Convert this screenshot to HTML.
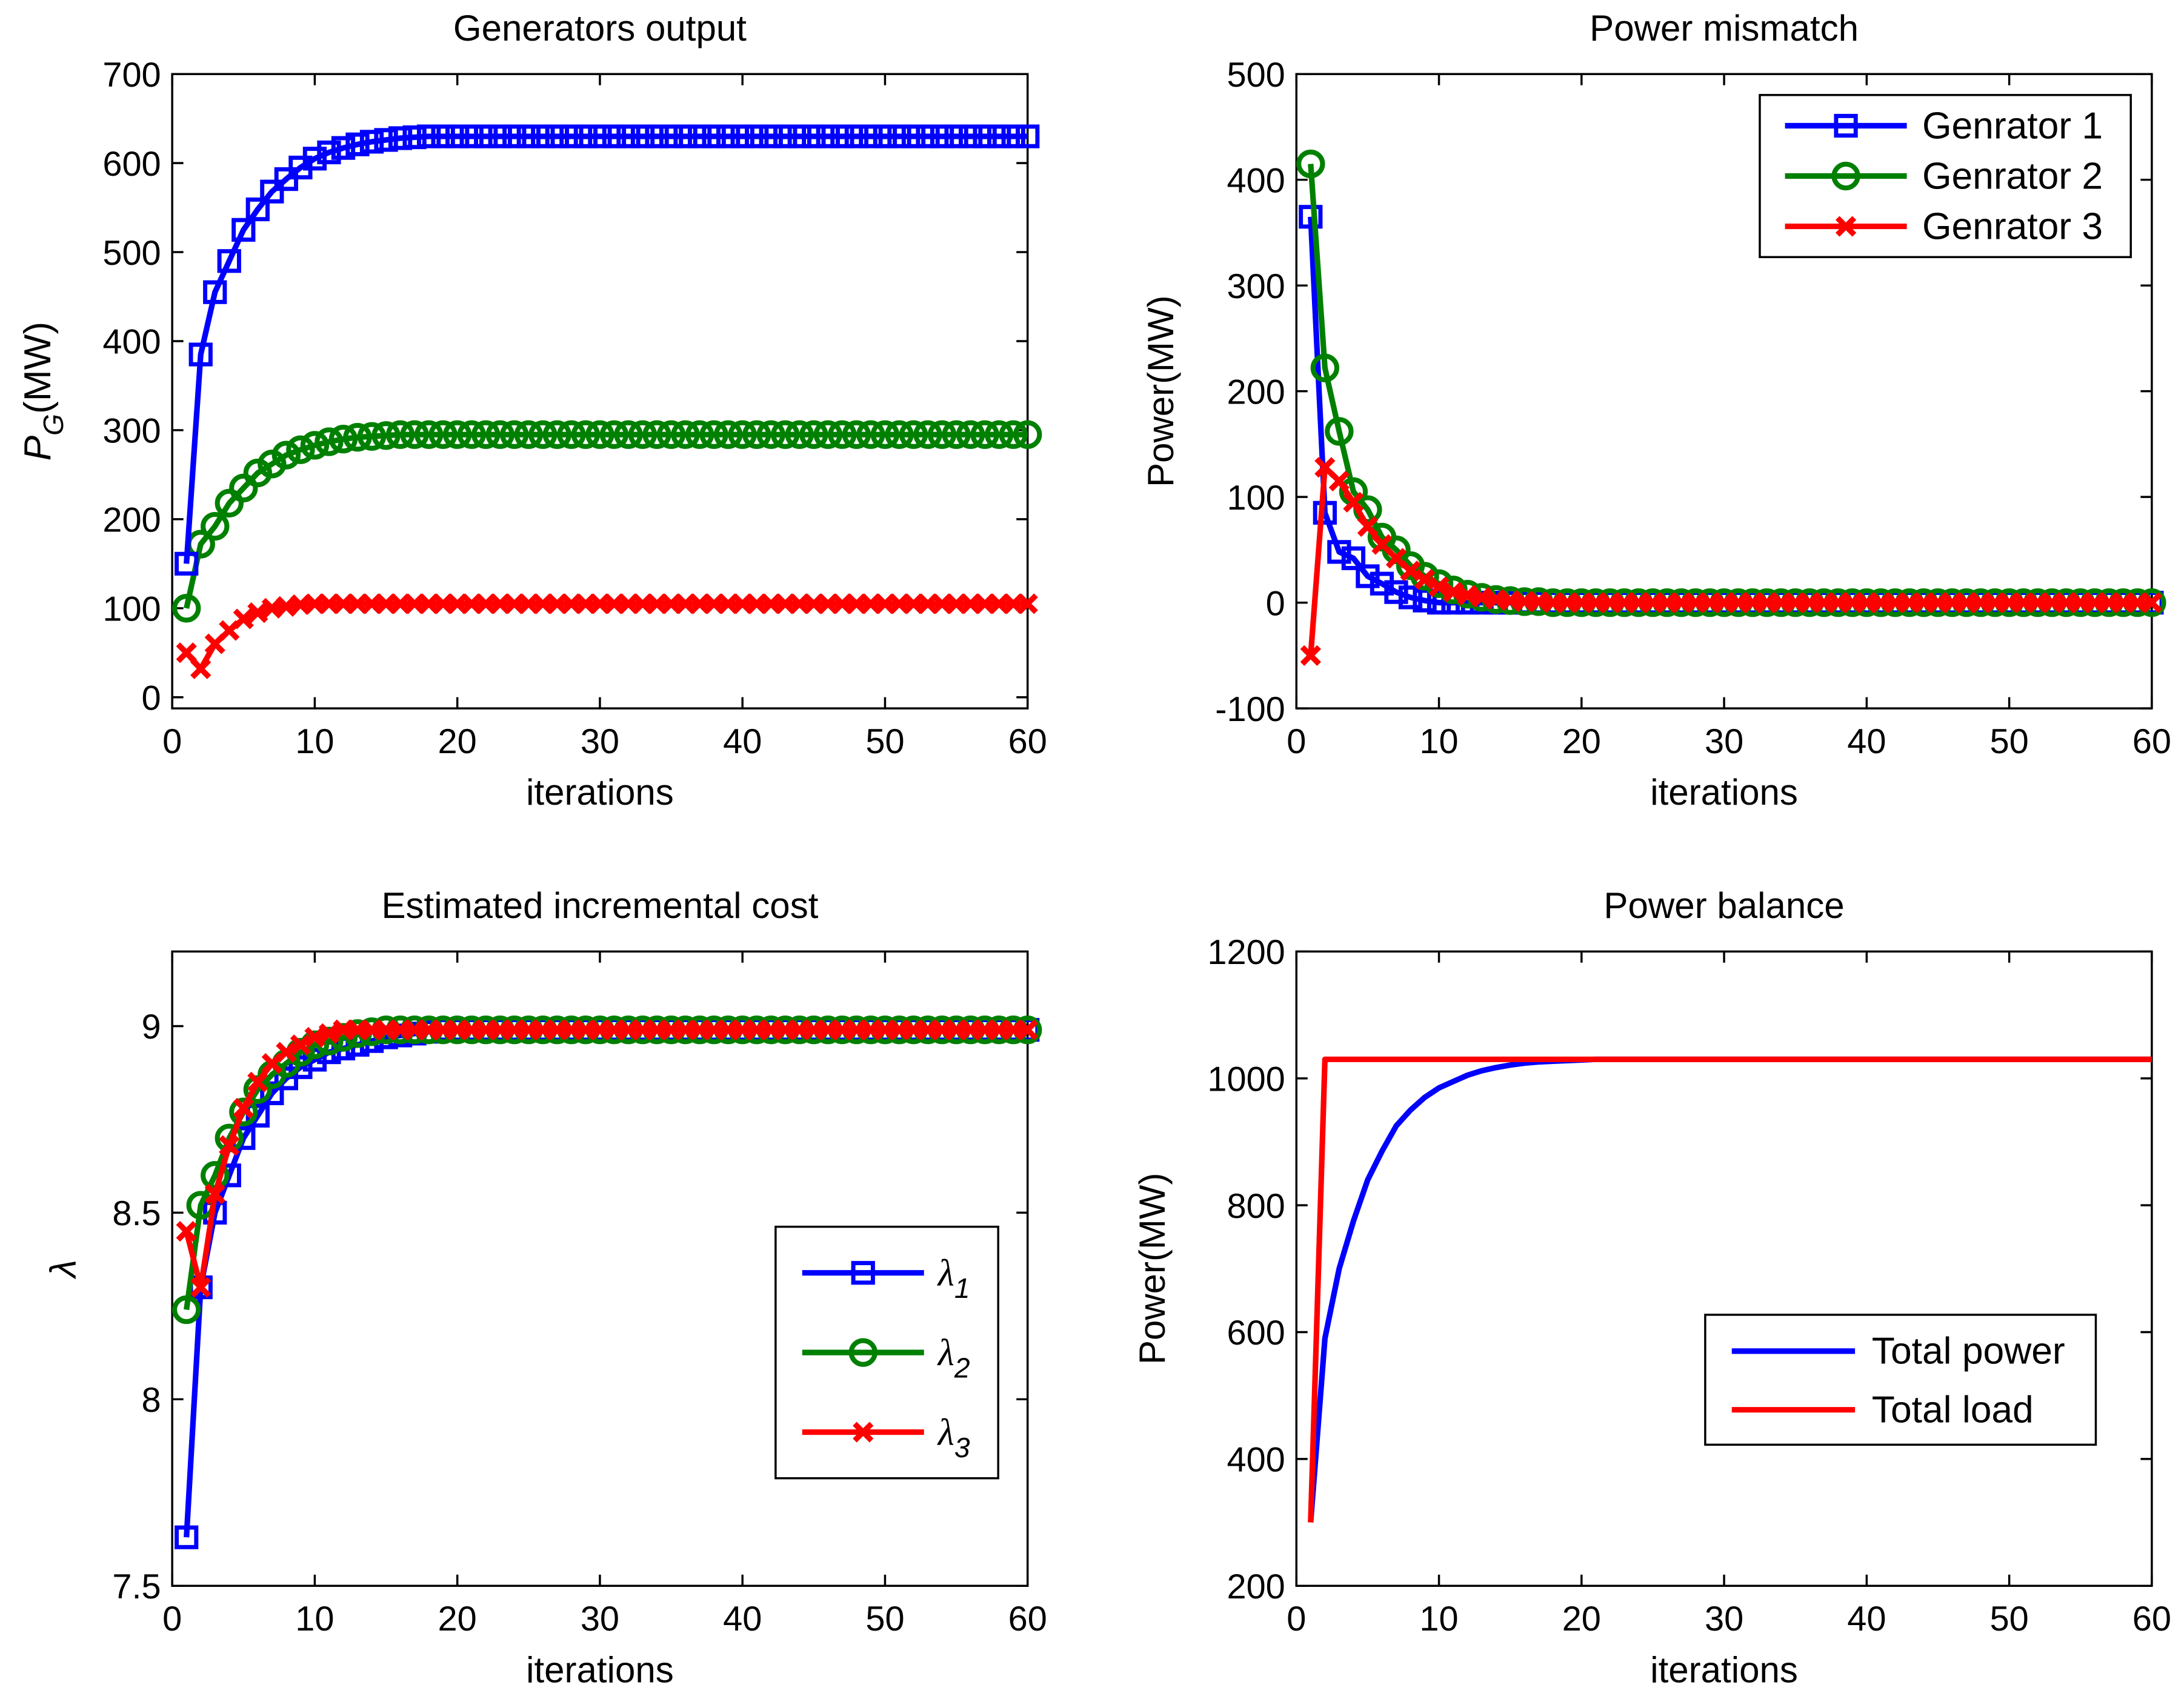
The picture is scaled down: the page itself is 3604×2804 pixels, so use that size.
<!DOCTYPE html>
<html><head><meta charset="utf-8">
<style>
html,body{margin:0;padding:0;background:#fff;}
svg{display:block;}
text{font-family:"Liberation Sans",sans-serif;fill:#000;}
</style></head>
<body>
<svg id="fig" width="3604" height="2804" viewBox="0 0 1560 1216" preserveAspectRatio="none" xmlns="http://www.w3.org/2000/svg"></svg>
<script>
// ---- data ----
const iterations = Array.from({length:60},(_,i)=>i+1);
const pg1 = [150,385,455,490,525,548,568,582,595,605,612,617,621,624,626,628,629,630,630,630,630,630,630,630,630,630,630,630,630,630,630,630,630,630,630,630,630,630,630,630,630,630,630,630,630,630,630,630,630,630,630,630,630,630,630,630,630,630,630,630];
const pg2 = [100,172,192,218,235,252,262,272,278,283,287,290,292,293,294,295,295,295,295,295,295,295,295,295,295,295,295,295,295,295,295,295,295,295,295,295,295,295,295,295,295,295,295,295,295,295,295,295,295,295,295,295,295,295,295,295,295,295,295,295];
const pg3 = [50,32,60,75,88,95,100,102,104,105,105,105,105,105,105,105,105,105,105,105,105,105,105,105,105,105,105,105,105,105,105,105,105,105,105,105,105,105,105,105,105,105,105,105,105,105,105,105,105,105,105,105,105,105,105,105,105,105,105,105];
const mm1 = [365,85,48,42,25,18,10,5,2,0,0,0,0,0,0,0,0,0,0,0,0,0,0,0,0,0,0,0,0,0,0,0,0,0,0,0,0,0,0,0,0,0,0,0,0,0,0,0,0,0,0,0,0,0,0,0,0,0,0,0];
const mm2 = [415,222,162,105,88,62,50,35,25,18,12,8,5,3,2,1,1,0,0,0,0,0,0,0,0,0,0,0,0,0,0,0,0,0,0,0,0,0,0,0,0,0,0,0,0,0,0,0,0,0,0,0,0,0,0,0,0,0,0,0];
const mm3 = [-50,128,115,95,72,55,42,30,22,15,10,7,5,3,2,1,1,0,0,0,0,0,0,0,0,0,0,0,0,0,0,0,0,0,0,0,0,0,0,0,0,0,0,0,0,0,0,0,0,0,0,0,0,0,0,0,0,0,0,0];
const lam1 = [7.63,8.30,8.50,8.60,8.70,8.76,8.82,8.86,8.89,8.91,8.93,8.94,8.95,8.96,8.97,8.975,8.98,8.985,8.99,8.99,8.99,8.99,8.99,8.99,8.99,8.99,8.99,8.99,8.99,8.99,8.99,8.99,8.99,8.99,8.99,8.99,8.99,8.99,8.99,8.99,8.99,8.99,8.99,8.99,8.99,8.99,8.99,8.99,8.99,8.99,8.99,8.99,8.99,8.99,8.99,8.99,8.99,8.99,8.99,8.99];
const lam2 = [8.24,8.52,8.60,8.70,8.77,8.83,8.87,8.90,8.93,8.95,8.96,8.97,8.98,8.985,8.99,8.99,8.99,8.99,8.99,8.99,8.99,8.99,8.99,8.99,8.99,8.99,8.99,8.99,8.99,8.99,8.99,8.99,8.99,8.99,8.99,8.99,8.99,8.99,8.99,8.99,8.99,8.99,8.99,8.99,8.99,8.99,8.99,8.99,8.99,8.99,8.99,8.99,8.99,8.99,8.99,8.99,8.99,8.99,8.99,8.99];
const lam3 = [8.45,8.30,8.55,8.68,8.78,8.85,8.90,8.93,8.95,8.97,8.98,8.99,8.99,8.99,8.99,8.99,8.99,8.99,8.99,8.99,8.99,8.99,8.99,8.99,8.99,8.99,8.99,8.99,8.99,8.99,8.99,8.99,8.99,8.99,8.99,8.99,8.99,8.99,8.99,8.99,8.99,8.99,8.99,8.99,8.99,8.99,8.99,8.99,8.99,8.99,8.99,8.99,8.99,8.99,8.99,8.99,8.99,8.99,8.99,8.99];
const totalPower = [300,590,700,775,840,885,925,950,970,985,995,1005,1012,1017,1021,1024,1026,1027,1028,1029,1030,1030,1030,1030,1030,1030,1030,1030,1030,1030,1030,1030,1030,1030,1030,1030,1030,1030,1030,1030,1030,1030,1030,1030,1030,1030,1030,1030,1030,1030,1030,1030,1030,1030,1030,1030,1030,1030,1030,1030];
const totalLoad = [300,1030,1030,1030,1030,1030,1030,1030,1030,1030,1030,1030,1030,1030,1030,1030,1030,1030,1030,1030,1030,1030,1030,1030,1030,1030,1030,1030,1030,1030,1030,1030,1030,1030,1030,1030,1030,1030,1030,1030,1030,1030,1030,1030,1030,1030,1030,1030,1030,1030,1030,1030,1030,1030,1030,1030,1030,1030,1030,1030];
const xTicks = [0,10,20,30,40,50,60];
const yTicksPG = [0,100,200,300,400,500,600,700];
const yTicksMM = [-100,0,100,200,300,400,500];
const yTicksLam = [7.5,8,8.5,9];
const yTickLabelsLam = ['7.5','8','8.5','9'];
const yTicksPB = [200,400,600,800,1000,1200];

const NS='http://www.w3.org/2000/svg';
const svg=document.getElementById('fig');
function el(tag,attrs,parent){const e=document.createElementNS(NS,tag);for(const k in attrs)e.setAttribute(k,attrs[k]);(parent||svg).appendChild(e);return e;}

function makeAxes(name,x0,x1,yTop,yBot,ymin,ymax,yTicks,yLabels,title,ylabelFn){
  const g=el('g',{});
  
  
  const sx=v=>x0+(v-0)/(60-0)*(x1-x0);
  const sy=v=>yBot-(v-ymin)/(ymax-ymin)*(yBot-yTop);
  const box=el('rect',{x:x0,y:yTop,width:x1-x0,height:yBot-yTop,fill:'#fff',stroke:'#000','stroke-width':1.5},g);
  
  
  const tl=8;
  xTicks.forEach(t=>{
    const x=sx(t);
    el('line',{x1:x,y1:yBot,x2:x,y2:yBot-tl,stroke:'#000','stroke-width':1.5},g);
    el('line',{x1:x,y1:yTop,x2:x,y2:yTop+tl,stroke:'#000','stroke-width':1.5},g);
    const tx=el('text',{x:x,y:yBot+32,'font-size':25,'text-anchor':'middle'},g);
    tx.textContent=t;
    
    
  });
  yTicks.forEach((t,i)=>{
    const y=sy(t);
    el('line',{x1:x0,y1:y,x2:x0+tl,y2:y,stroke:'#000','stroke-width':1.5},g);
    el('line',{x1:x1,y1:y,x2:x1-tl,y2:y,stroke:'#000','stroke-width':1.5},g);
    const ty=el('text',{x:x0-8,y:y+9,'font-size':25,'text-anchor':'end'},g);
    ty.textContent=yLabels?yLabels[i]:t;
    
    
  });
  const tt=el('text',{x:(x0+x1)/2,y:yTop-24,'font-size':26,'text-anchor':'middle'},g);
  tt.textContent=title;
  
  
  const xl=el('text',{x:(x0+x1)/2,y:yBot+69,'font-size':26,'text-anchor':'middle'},g);
  xl.textContent='iterations';
  
  
  ylabelFn(g);
  return {g,sx,sy};
}

function drawMarker(g,type,x,y,color){
  if(type==='s') return el('rect',{x:x-7,y:y-7,width:14,height:14,fill:'none',stroke:color,'stroke-width':3},g);
  if(type==='o') return el('circle',{cx:x,cy:y,r:8.5,fill:'none',stroke:color,'stroke-width':3.5},g);
  if(type==='x'){const p=el('path',{d:`M${x-6},${y-6}L${x+6},${y+6}M${x-6},${y+6}L${x+6},${y-6}`,stroke:color,'stroke-width':4,fill:'none'},g);return p;}
}
function series(ax,vals,color,marker,name){
  const g=el('g',{},ax.g);
  
  
  const d=vals.map((v,i)=>(i?'L':'M')+ax.sx(iterations[i]).toFixed(2)+','+ax.sy(v).toFixed(2)).join('');
  el('path',{d:d,fill:'none',stroke:color,'stroke-width':4,'stroke-linejoin':'round'},g);
  if(marker) vals.forEach((v,i)=>{
    const m=drawMarker(g,marker,ax.sx(iterations[i]),ax.sy(v),color);
    
    
  });
}
function legend(parent,x,y,w,h,entries,name){
  const g=el('g',{},parent);
  
  
  el('rect',{x:x,y:y,width:w,height:h,fill:'#fff',stroke:'#000','stroke-width':1.5},g);
  entries.forEach(e=>{
    const eg=el('g',{},g);
    
    
    el('line',{x1:e.lx0,y1:e.y,x2:e.lx1,y2:e.y,stroke:e.color,'stroke-width':4},eg);
    if(e.marker) drawMarker(eg,e.marker,(e.lx0+e.lx1)/2,e.y,e.color);
    const t=el('text',{x:e.tx,y:e.y+9,'font-size':27},eg);
    if(e.sub){
      const a=el('tspan',{'font-style':'italic','font-family':'"Liberation Serif",serif'},t);a.textContent='λ';
      const b=el('tspan',{dy:9,'font-size':20,'font-style':'italic'},t);b.textContent=e.sub;
    } else t.textContent=e.label;
  });
}
const B='#0000ff',G='#008000',R='#ff0000';

// Panel 1
const a1=makeAxes('generators-output-chart',123,734,53,507,-12.5,700,yTicksPG,null,'Generators output',g=>{
  const t=el('text',{transform:'translate(36,280) rotate(-90)','font-size':27,'text-anchor':'middle'},g);
  const p=el('tspan',{'font-style':'italic'},t);p.textContent='P';
  const s=el('tspan',{dy:9,'font-size':20,'font-style':'italic'},t);s.textContent='G';
  const r=el('tspan',{dy:-9},t);r.textContent='(MW)';
  
  
});
series(a1,pg3,R,'x','series-generator-3');
series(a1,pg2,G,'o','series-generator-2');
series(a1,pg1,B,'s','series-generator-1');

// Panel 2
const a2=makeAxes('power-mismatch-chart',926,1537,53,507,-100,500,yTicksMM,null,'Power mismatch',g=>{
  const t=el('text',{transform:'translate(838,280) rotate(-90)','font-size':26,'text-anchor':'middle'},g);
  t.textContent='Power(MW)';
  
  
});
series(a2,mm1,B,'s','series-generator-1');
series(a2,mm2,G,'o','series-generator-2');
series(a2,mm3,R,'x','series-generator-3');
legend(a2.g,1257,68,265,116,[
  {y:90,lx0:1275,lx1:1362,tx:1373,color:B,marker:'s',label:'Genrator 1'},
  {y:126,lx0:1275,lx1:1362,tx:1373,color:G,marker:'o',label:'Genrator 2'},
  {y:162,lx0:1275,lx1:1362,tx:1373,color:R,marker:'x',label:'Genrator 3'}],'legend');

// Panel 3
const a3=makeAxes('incremental-cost-chart',123,734,681,1135,7.5,9.2,yTicksLam,yTickLabelsLam,'Estimated incremental cost',g=>{
  const t=el('text',{transform:'translate(54,908) rotate(-90)','font-size':26,'text-anchor':'middle','font-style':'italic','font-family':'"Liberation Serif",serif'},g);
  t.textContent='λ';
  
  
});
series(a3,lam1,B,'s','series-lambda-1');
series(a3,lam2,G,'o','series-lambda-2');
series(a3,lam3,R,'x','series-lambda-3');
legend(a3.g,554,878,159,180,[
  {y:911,lx0:573,lx1:660,tx:670,color:B,marker:'s',sub:'1'},
  {y:968,lx0:573,lx1:660,tx:670,color:G,marker:'o',sub:'2'},
  {y:1025,lx0:573,lx1:660,tx:670,color:R,marker:'x',sub:'3'}],'legend');

// Panel 4
const a4=makeAxes('power-balance-chart',926,1537,681,1135,200,1200,yTicksPB,null,'Power balance',g=>{
  const t=el('text',{transform:'translate(832,908) rotate(-90)','font-size':26,'text-anchor':'middle'},g);
  t.textContent='Power(MW)';
  
  
});
series(a4,totalPower,B,null,'series-total-power');
series(a4,totalLoad,R,null,'series-total-load');
legend(a4.g,1218,941,279,93,[
  {y:967,lx0:1237,lx1:1325,tx:1337,color:B,label:'Total power'},
  {y:1009,lx0:1237,lx1:1325,tx:1337,color:R,label:'Total load'}],'legend');
</script>
</body></html>
